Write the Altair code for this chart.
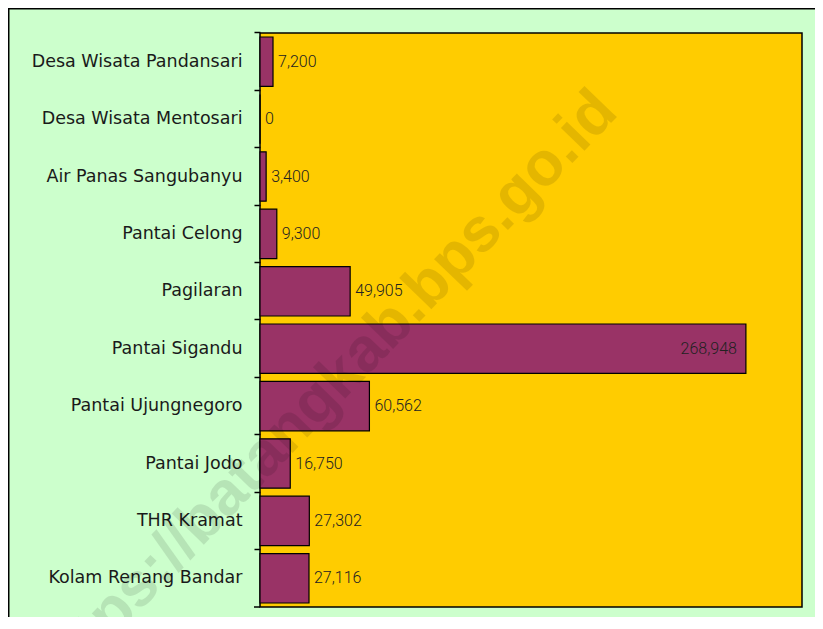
import altair as alt
import pandas as pd

categories = [
    "Desa Wisata Pandansari",
    "Desa Wisata Mentosari",
    "Air Panas Sangubanyu",
    "Pantai Celong",
    "Pagilaran",
    "Pantai Sigandu",
    "Pantai Ujungnegoro",
    "Pantai Jodo",
    "THR Kramat",
    "Kolam Renang Bandar",
]
values = [7200, 0, 3400, 9300, 49905, 268948, 60562, 16750, 27302, 27116]
watermark = ["https://batangkab.bps.go.id"]

df = pd.DataFrame({"cat": categories, "value": values})

W, H = 542, 574
PAD = {"left": 252, "top": 25, "right": 13, "bottom": 10}

y_enc = alt.Y(
    "cat:N",
    sort=categories,
    scale=alt.Scale(paddingInner=0.14, paddingOuter=0.07),
    axis=alt.Axis(
        title=None,
        domain=False,
        grid=False,
        ticks=True,
        tickSize=6,
        tickColor="black",
        tickWidth=1.5,
        bandPosition=-0.0814,
        labelFont="DejaVu Sans",
        labelFontSize=17.5,
        labelColor="#1a1a1a",
        labelPadding=12,
        labelLimit=400,
    ),
)
x_enc = alt.X("value:Q", scale=alt.Scale(domain=[0, 300000], nice=False), axis=None)

base = alt.Chart(df).encode(x=x_enc, y=y_enc)

bars = base.mark_bar(color="#993366", stroke="black", strokeWidth=1.2)

label_font = "Roboto"

labels_out = base.transform_filter("datum.value < 200000").mark_text(
    align="left", baseline="middle", dx=5, font=label_font, fontWeight=300,
    fontSize=16, color="#222222"
).encode(text=alt.Text("value:Q", format=","))

labels_in = base.transform_filter("datum.value >= 200000").mark_text(
    align="right", baseline="middle", dx=-9, font=label_font, fontWeight=300,
    fontSize=16, color="#222222"
).encode(text=alt.Text("value:Q", format=","))

bottom_tick = alt.Chart(df).mark_rule(color="black", strokeWidth=1.5).encode(
    x=alt.value(-6), x2=alt.value(0), y=alt.value(H)
).transform_filter("datum.cat == 'Kolam Renang Bandar'")

wm = alt.Chart(pd.DataFrame({"t": watermark})).mark_text(
    align="center", baseline="middle", angle=314, font="Liberation Sans",
    fontWeight="bold", fontSize=62, color="black", opacity=0.1, clip=False
).encode(text="t:N", x=alt.value(65), y=alt.value(359))

outer = alt.Chart(df).mark_rect(filled=False, stroke="black", strokeWidth=2, clip=False).encode(
    x=alt.value(-PAD["left"] + 0.5), x2=alt.value(W + 200),
    y=alt.value(-PAD["top"] + 0.5), y2=alt.value(H + 200)
).transform_filter("datum.cat == 'Pantai Jodo'")

chart = alt.layer(bars, labels_out, labels_in, bottom_tick, wm, outer).properties(
    width=W, height=H, background="#CCFFCC",
    padding=PAD,
    autosize=alt.AutoSizeParams(type="none"),
).configure_view(fill="#FFCC00", stroke="black", strokeWidth=1.5)

chart.save("out.html", embed_options={"renderer": "svg", "actions": False})
